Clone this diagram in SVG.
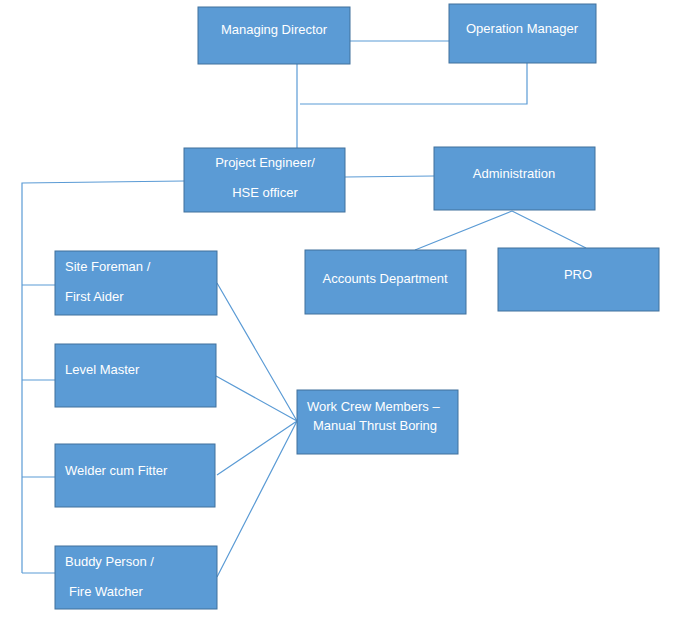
<svg xmlns="http://www.w3.org/2000/svg" width="676" height="625" viewBox="0 0 676 625">
<style>
.b{fill:#5b9bd5;stroke:#41719c;stroke-width:1}
.t{fill:#fff;font-family:"Liberation Sans",Arial,sans-serif;font-size:13px}
.c{stroke:#5b9bd5;stroke-width:1.2;fill:none}
</style>
<rect width="676" height="625" fill="#fff"/>
<g id="connectors" class="c">
<path d="M350 41H449"/>
<path d="M527 63V104H300"/>
<path d="M297 64V148"/>
<path d="M184 181L22 183V573"/>
<path d="M22 285H55M22 380H55M22 477H55M22 573H55"/>
<path d="M345 177L434 176"/>
<path d="M512 211L415 250M512 211L586 248"/>
<path d="M217 283L297 421M216 376L297 421M217 475L297 421M217 577L297 421"/>
</g>
<g id="md"><rect class="b" x="198" y="7" width="152" height="57"/><text class="t" x="274" y="34" text-anchor="middle">Managing Director</text></g>
<g id="om"><rect class="b" x="449" y="4" width="147" height="59"/><text class="t" x="522" y="33" text-anchor="middle">Operation Manager</text></g>
<g id="pe"><rect class="b" x="184" y="148" width="161" height="64"/><text class="t" x="265" y="167" text-anchor="middle">Project Engineer/</text><text class="t" x="265" y="197" text-anchor="middle">HSE officer</text></g>
<g id="admin"><rect class="b" x="434" y="147" width="161" height="63"/><text class="t" x="514" y="178" text-anchor="middle">Administration</text></g>
<g id="acc"><rect class="b" x="305" y="250" width="161" height="64"/><text class="t" x="385" y="283" text-anchor="middle">Accounts Department</text></g>
<g id="pro"><rect class="b" x="498" y="248" width="161" height="63"/><text class="t" x="578" y="279" text-anchor="middle">PRO</text></g>
<g id="sf"><rect class="b" x="55" y="251" width="162" height="64"/><text class="t" x="65" y="271">Site Foreman /</text><text class="t" x="65" y="301">First Aider</text></g>
<g id="lm"><rect class="b" x="55" y="344" width="161" height="63"/><text class="t" x="65" y="374">Level Master</text></g>
<g id="wf"><rect class="b" x="55" y="444" width="160" height="63"/><text class="t" x="65" y="475">Welder cum Fitter</text></g>
<g id="bp"><rect class="b" x="55" y="546" width="162" height="63"/><text class="t" x="65" y="566">Buddy Person /</text><text class="t" x="69" y="596">Fire Watcher</text></g>
<g id="wc"><rect class="b" x="297" y="390" width="161" height="64"/><text class="t" x="307" y="411">Work Crew Members –</text><text class="t" x="313" y="430">Manual Thrust Boring</text></g>
</svg>
